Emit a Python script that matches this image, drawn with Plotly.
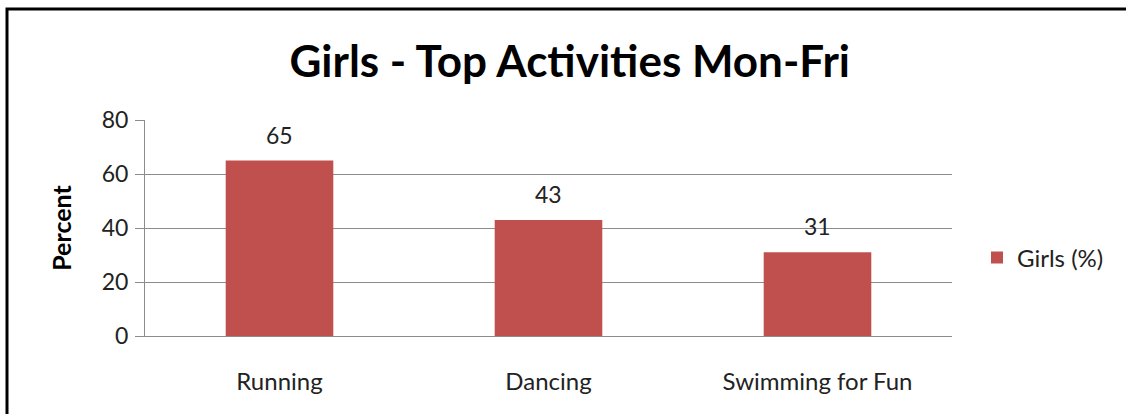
import plotly.graph_objects as go

categories = ["Running", "Dancing", "Swimming for Fun"]
girls_pct = [65, 43, 31]
series_name = "Girls (%)"
y_ticks = [0, 20, 40, 60, 80]

FONT = "Lato, Calibri, 'Open Sans', sans-serif"
BAR = "#C0504D"
GRID = "#8C8C8C"

fig = go.Figure()
fig.add_trace(go.Bar(
    x=categories, y=girls_pct, name=series_name,
    marker=dict(color=BAR, line=dict(width=0)),
    showlegend=True,
))

for c, v in zip(categories, girls_pct):
    fig.add_annotation(x=c, y=v, text=str(v), showarrow=False,
                       yanchor="bottom", yshift=10,
                       font=dict(family=FONT, size=23, color="#222"))

L, R, T, B = 145, 174, 120, 78
W, H = 1126, 414
pw, ph = W - L - R, H - T - B

fig.add_shape(type="rect", xref="paper", yref="paper",
              x0=(7 - L) / pw, x1=(1140 - L) / pw,
              y0=(H - B - 430) / ph, y1=(H - B - 9) / ph,
              line=dict(color="black", width=3), fillcolor="rgba(0,0,0,0)",
              layer="above")

fig.update_layout(
    width=W, height=H,
    margin=dict(l=L, r=R, t=T, b=B),
    paper_bgcolor="white", plot_bgcolor="white",
    bargap=0.6,
    title=dict(text="<b>Girls - Top Activities Mon-Fri</b>", x=0.506, xanchor="center",
               y=1 - 62 / H, yanchor="middle",
               font=dict(family=FONT, size=44, color="black")),
    legend=dict(x=(977 - L) / pw, y=(H - B - 258) / ph, xanchor="left", yanchor="middle",
                font=dict(family=FONT, size=24, color="#222"),
                bgcolor="rgba(0,0,0,0)", itemwidth=30),
    font=dict(family=FONT, color="#222"),
)

fig.update_yaxes(range=[0, 80], tickvals=y_ticks, showgrid=True, gridcolor=GRID, gridwidth=1,
                 showline=True, linecolor=GRID, linewidth=1,
                 ticks="outside", ticklen=9, tickcolor=GRID,
                 tickfont=dict(family=FONT, size=23, color="#222"),
                 ticklabelstandoff=2, zeroline=False,
                 title=dict(text="<b>Percent</b>", standoff=22,
                            font=dict(family=FONT, size=25, color="black")))
fig.update_xaxes(showline=True, linecolor=GRID, linewidth=1, ticks="",
                 tickfont=dict(family=FONT, size=24, color="#222"),
                 ticklabelstandoff=24)

fig.write_html("out.html", config={"displayModeBar": False},
               post_script="document.body.style.margin='0';")
